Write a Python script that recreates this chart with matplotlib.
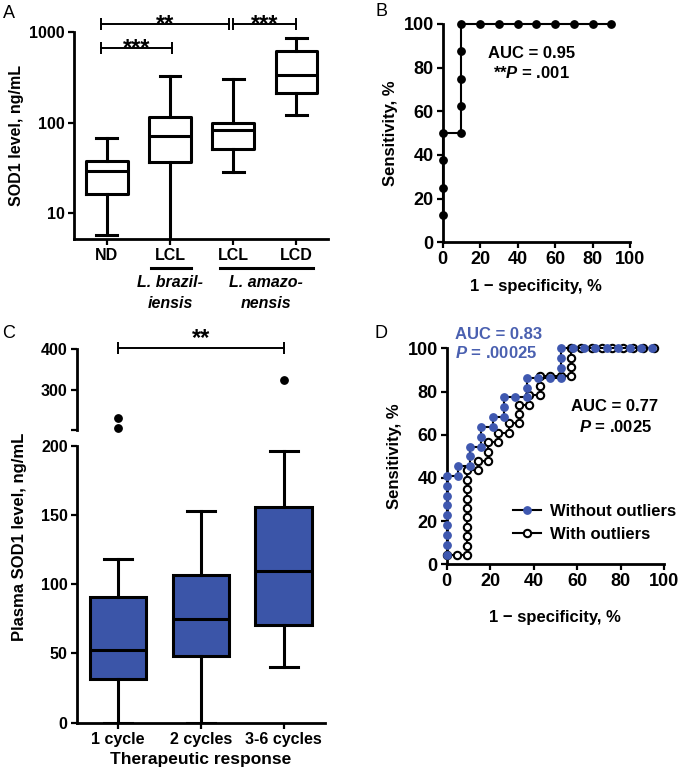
import matplotlib
matplotlib.use('Agg')
import matplotlib.pyplot as plt
from matplotlib.lines import Line2D

plt.rcParams['font.family'] = ['Liberation Sans', 'DejaVu Sans']
plt.rcParams['font.weight'] = 'bold'
plt.rcParams['mathtext.fontset'] = 'custom'
plt.rcParams['mathtext.it'] = 'Liberation Sans:italic:bold'
plt.rcParams['mathtext.rm'] = 'Liberation Sans:bold'
plt.rcParams['mathtext.bf'] = 'Liberation Sans:bold'
plt.rcParams['axes.linewidth'] = 2.0

# ---------------- data ----------------
# Panel A (log scale box plots)
a_labels = ['ND', 'LCL', 'LCL', 'LCD']
a_whislo = [5.8, 4.0, 28.4, 122]
a_q1 = [16.2, 37.2, 51.9, 212]
a_med = [29.4, 71.6, 83.3, 335]
a_q3 = [38.2, 116, 98.6, 627]
a_whishi = [68.5, 329, 305, 873]

# Panel B (ROC)
b_fpr = [0, 0, 0, 0, 10, 10, 10, 10, 10, 20, 30, 40, 50, 60, 70, 80, 90]
b_tpr = [12.5, 25, 37.5, 50, 50, 62.5, 75, 87.5, 100, 100, 100, 100, 100, 100, 100, 100, 100]

# Panel C (box plots, broken axis)
c_labels = ['1 cycle', '2 cycles', '3-6 cycles']
c_whislo = [0, 0, 40.4]
c_q1 = [31.5, 48.4, 70.3]
c_med = [52.5, 75.1, 109.7]
c_q3 = [91.0, 106.6, 156.0]
c_whishi = [117.9, 152.8, 196.4]
c_outliers = [[230, 204], [], [323]]

# Panel D (ROC, two curves)
d_wo_fpr = [0, 0, 0, 0, 0, 0, 0, 0, 0, 5.3, 5.3, 10.5, 10.5, 10.5, 15.8, 15.8, 15.8,
            21.1, 21.1, 26.3, 26.3, 26.3, 31.6, 36.8, 36.8, 36.8, 42.1, 47.4, 52.6,
            52.6, 52.6, 52.6, 57.9, 63.2, 68.4, 73.7, 78.9, 84.2, 89.5, 94.7]
d_wo_tpr = [4.5, 9.1, 13.6, 18.2, 22.7, 27.3, 31.8, 36.4, 40.9, 40.9, 45.5, 45.5, 50.0,
            54.5, 54.5, 59.1, 63.6, 63.6, 68.2, 68.2, 72.7, 77.3, 77.3, 77.3, 81.8, 86.4,
            86.4, 86.4, 86.4, 90.9, 95.5, 100, 100, 100, 100, 100, 100, 100, 100, 100]
d_w_fpr = [0, 4.8, 9.5, 9.5, 9.5, 9.5, 9.5, 9.5, 9.5, 9.5, 9.5, 9.5, 14.3, 14.3, 19.0,
           19.0, 19.0, 23.8, 23.8, 28.6, 28.6, 33.3, 33.3, 33.3, 38.1, 38.1, 42.9, 42.9,
           42.9, 47.6, 52.4, 57.1, 57.1, 57.1, 57.1, 61.9, 66.7, 71.4, 76.2, 81.0, 85.7,
           90.5, 95.2]
d_w_tpr = [4.3, 4.3, 4.3, 8.7, 13.0, 17.4, 21.7, 26.1, 30.4, 34.8, 39.1, 43.5, 43.5,
           47.8, 47.8, 52.2, 56.5, 56.5, 60.9, 60.9, 65.2, 65.2, 69.6, 73.9, 73.9, 78.3,
           78.3, 82.6, 87.0, 87.0, 87.0, 87.0, 91.3, 95.7, 100, 100, 100, 100, 100, 100,
           100, 100, 100]

BLUE_FILL = '#3b55a8'
BLUE_PT = '#3f58b0'
BLUE_TXT = '#4a60b0'

W, H = 683, 774
fig = plt.figure(figsize=(W / 100, H / 100), dpi=100)


def rect(l, t, r, b):
    return [l / W, 1 - b / H, (r - l) / W, (b - t) / H]


def style(ax, fs):
    ax.spines['top'].set_visible(False)
    ax.spines['right'].set_visible(False)
    ax.tick_params(direction='out', length=4.5, width=1.6, labelsize=fs, pad=2)
    for t in ax.get_xticklabels() + ax.get_yticklabels():
        t.set_fontweight('bold')


def stats(wl, q1, md, q3, wh):
    out = []
    for i in range(len(md)):
        out.append(dict(whislo=wl[i], q1=q1[i], med=md[i], q3=q3[i], whishi=wh[i], fliers=[]))
    return out


LW = 2.2
bprops = dict(boxprops=dict(color='k', lw=LW), whiskerprops=dict(color='k', lw=LW),
              capprops=dict(color='k', lw=LW), medianprops=dict(color='k', lw=LW))


def sigbar(ax, x0, x1, y, txt, dy, fs=17):
    ax.plot([x0, x1], [y, y], color='k', lw=1.4, clip_on=False)
    ax.plot([x0, x1], [y, y], ls='none', marker='|', ms=8, mew=1.4, color='k', clip_on=False)
    ax.annotate(txt, xy=((x0 + x1) / 2, y), xytext=(0, dy), textcoords='offset pixels',
                ha='center', va='baseline', fontsize=fs, fontweight='bold', annotation_clip=False)


# ---------------- Panel A ----------------
axA = fig.add_axes(rect(74, 32.3, 328, 239.3))
axA.set_yscale('log')
axA.bxp(stats(a_whislo, a_q1, a_med, a_q3, a_whishi), positions=range(4), widths=0.66,
        showfliers=False, **bprops)
axA.set_ylim(5.16, 1000)
axA.set_xlim(-0.52, 3.5)
axA.set_yticks([10, 100, 1000])
axA.set_yticklabels(['10', '100', '1000'])
axA.yaxis.set_minor_locator(matplotlib.ticker.NullLocator())
axA.set_xticks(range(4))
axA.set_xticklabels(a_labels)
style(axA, 11.5)
axA.set_ylabel('SOD1 level, ng/mL', fontsize=11.5, fontweight='bold', labelpad=4)
sigbar(axA, -0.1, 1.03, 676, '***', -7)
sigbar(axA, -0.1, 1.94, 1235, '**', -7)
sigbar(axA, 2.0, 2.99, 1235, '***', -7)
tr = axA.get_xaxis_transform()
axA.plot([0.695, 1.327], [-0.137, -0.137], color='k', lw=2.2, transform=tr, clip_on=False)
axA.plot([1.79, 3.26], [-0.137, -0.137], color='k', lw=2.2, transform=tr, clip_on=False)
for x, l1, l2 in [(1.0, 'L. brazil-', 'iensis'), (2.52, 'L. amazo-', 'nensis')]:
    axA.text(x, -0.211, l1, transform=tr, ha='center', va='center', fontsize=11.5,
             fontweight='bold', style='italic')
    axA.text(x, -0.308, l2, transform=tr, ha='center', va='center', fontsize=11.5,
             fontweight='bold', style='italic')

# ---------------- Panel B ----------------
axB = fig.add_axes(rect(442.7, 24, 630, 242.3))
axB.plot(b_fpr, b_tpr, color='k', lw=1.5, marker='o', ms=5.3, clip_on=False, zorder=3)
axB.set_xlim(0, 100)
axB.set_ylim(0, 100)
axB.set_xticks(range(0, 101, 20))
axB.set_yticks(range(0, 101, 20))
style(axB, 13)
axB.set_xlabel('1 \u2212 specificity, %', fontsize=12, fontweight='bold', labelpad=8)
axB.set_ylabel('Sensitivity, %', fontsize=12, fontweight='bold', labelpad=4)
axB.text(47.5, 86.6, 'AUC = 0.95', ha='center', va='center', fontsize=12, fontweight='bold')
axB.text(47.2, 77.7, r'**$\mathit{P}$ = .001', ha='center', va='center', fontsize=12,
         fontweight='bold')

# ---------------- Panel C ----------------
axC = fig.add_axes(rect(76.7, 445.7, 325, 722.7))
axCt = fig.add_axes(rect(76.7, 349.3, 325, 430))
axC.bxp(stats(c_whislo, c_q1, c_med, c_q3, c_whishi), positions=range(3), widths=0.68,
        showfliers=False, patch_artist=True,
        boxprops=dict(facecolor=BLUE_FILL, edgecolor='k', lw=LW),
        whiskerprops=dict(color='k', lw=LW), capprops=dict(color='k', lw=LW),
        medianprops=dict(color='k', lw=LW))
axC.set_xlim(-0.5, 2.5)
axC.set_ylim(0, 200)
axC.set_yticks([0, 50, 100, 150, 200])
axC.set_xticks(range(3))
axC.set_xticklabels(c_labels)
style(axC, 11.5)
axC.set_xlabel('Therapeutic response', fontsize=12.5, fontweight='bold', labelpad=4)

for i, vals in enumerate(c_outliers):
    if vals:
        axCt.plot([i] * len(vals), vals, ls='none', marker='o', ms=5.3, color='k', clip_on=False)
axCt.set_xlim(-0.5, 2.5)
axCt.set_ylim(200, 400)
axCt.set_yticks([200, 300, 400])
axCt.set_yticklabels(['', '300', '400'])
style(axCt, 11.5)
axCt.spines['bottom'].set_visible(False)
axCt.set_xticks([])
sigbar(axCt, 0, 2, 402.5, '**', 3)
fig.text(20 / W, 1 - 536.7 / H, 'Plasma SOD1 level, ng/mL', rotation=90, ha='center',
         va='center', fontsize=12, fontweight='bold')

# ---------------- Panel D ----------------
axD = fig.add_axes(rect(446.7, 348.3, 664, 564.3))
axD.plot(d_w_fpr, d_w_tpr, color='k', lw=1.5, marker='o', ms=5.3, mfc='white', mec='k',
         mew=1.5, clip_on=False, zorder=3, label='With outliers')
axD.plot(d_wo_fpr, d_wo_tpr, color='k', lw=1.5, marker='o', ms=5.3, mfc=BLUE_PT, mec=BLUE_PT,
         clip_on=False, zorder=4, label='Without outliers')
axD.set_xlim(0, 100)
axD.set_ylim(0, 100)
axD.set_xticks(range(0, 101, 20))
axD.set_yticks(range(0, 101, 20))
style(axD, 13)
axD.set_xlabel('1 \u2212 specificity, %', fontsize=12, fontweight='bold', labelpad=14)
axD.set_ylabel('Sensitivity, %', fontsize=12, fontweight='bold', labelpad=4)
axD.text(3.8, 106.6, 'AUC = 0.83', ha='left', va='center', fontsize=12, fontweight='bold',
         color=BLUE_TXT)
axD.text(3.8, 97.8, r'$\mathit{P}$ = .00025', ha='left', va='center', fontsize=12,
         fontweight='bold', color=BLUE_TXT)
axD.text(77.1, 73.0, 'AUC = 0.77', ha='center', va='center', fontsize=12, fontweight='bold')
axD.text(77.5, 63.7, r'$\mathit{P}$ = .0025', ha='center', va='center', fontsize=12,
         fontweight='bold')
handles = [Line2D([], [], color='k', lw=1.5, marker='o', ms=5.3, mfc=BLUE_PT, mec=BLUE_PT),
           Line2D([], [], color='k', lw=1.5, marker='o', ms=5.3, mfc='white', mec='k', mew=1.5)]
axD.legend(handles, ['Without outliers', 'With outliers'], loc='upper left',
           bbox_to_anchor=(0.305, 0.28), frameon=False, borderpad=0, borderaxespad=0,
           handlelength=1.7, handletextpad=0.5, labelspacing=0.5,
           prop=dict(size=12, weight='bold'))

# ---------------- panel letters ----------------
for x, y, s in [(9, 13.5, 'A'), (381, 12, 'B'), (9, 333, 'C'), (381, 333, 'D')]:
    fig.text(x / W, 1 - y / H, s, ha='center', va='center', fontsize=13, fontweight='normal')

fig.savefig('out.png', dpi=100)
